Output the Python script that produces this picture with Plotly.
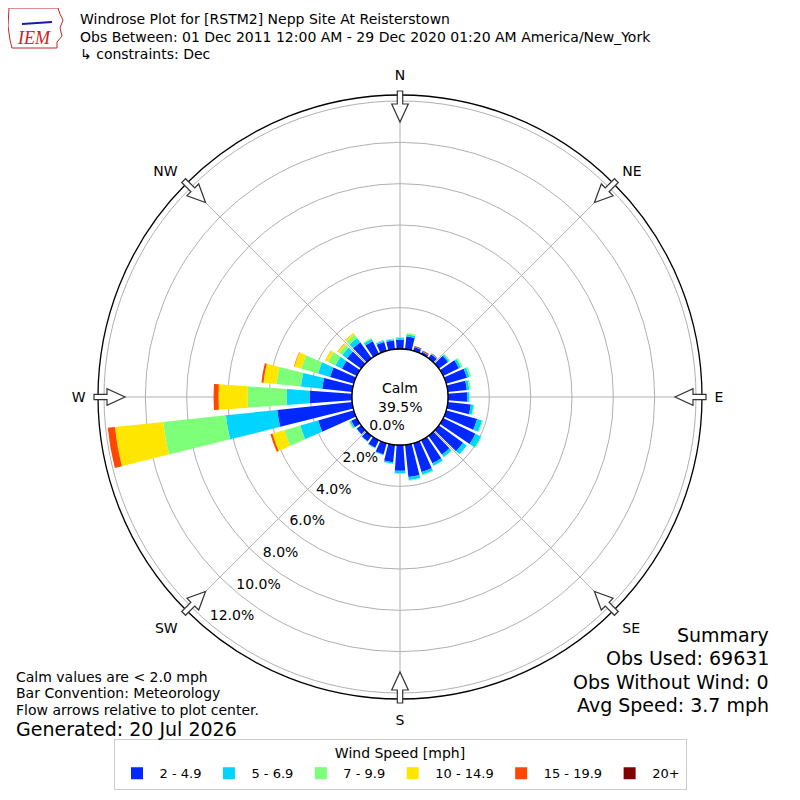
import math
import plotly.graph_objects as go

# ---------------- data ----------------
directions = list(range(0, 360, 10))
speed_labels = ["2 - 4.9", "5 - 6.9", "7 - 9.9", "10 - 14.9", "15 - 19.9", "20+"]
speed_colors = ["#0028ff", "#00d4ff", "#7dff7a", "#ffe600", "#ff4700", "#800000"]

#        0     10    20    30    40    50    60    70    80    90    100   110
s_2_5 = [0.45, 0.62, 0.18, 0.12, 0.24, 0.55, 0.85, 1.05, 0.93, 0.93, 1.12, 1.56,
         #120  130   140   150   160   170   180   190   200   210   220   230
         1.74, 1.45, 1.12, 1.25, 1.45, 1.57, 1.25, 0.85, 0.57, 0.41, 0.33, 0.27,
         #240  250   260   270   280   290   300   310   320   330   340   350
         0.30, 1.80, 3.65, 2.04, 1.46, 1.20, 0.80, 0.85, 0.95, 0.68, 0.45, 0.43]
s_5_7 = [0.08, 0.10, 0.01, 0.01, 0.02, 0.08, 0.12, 0.13, 0.12, 0.10, 0.13, 0.25,
         0.30, 0.22, 0.15, 0.13, 0.14, 0.15, 0.12, 0.07, 0.04, 0.03, 0.02, 0.02,
         0.08, 0.90, 2.50, 1.12, 1.04, 0.60, 0.35, 0.28, 0.25, 0.12, 0.07, 0.06]
s_7_10 = [0.04, 0.06, 0.00, 0.00, 0.01, 0.04, 0.08, 0.08, 0.07, 0.04, 0.05, 0.05,
          0.05, 0.03, 0.03, 0.02, 0.03, 0.03, 0.03, 0.01, 0.01, 0.01, 0.01, 0.01,
          0.05, 0.80, 3.05, 1.89, 1.19, 0.85, 0.40, 0.18, 0.20, 0.05, 0.03, 0.03]
s_10_15 = [0.00, 0.02, 0.00, 0.00, 0.00, 0.00, 0.00, 0.00, 0.00, 0.00, 0.00, 0.00,
           0.00, 0.00, 0.00, 0.00, 0.00, 0.00, 0.00, 0.00, 0.00, 0.00, 0.00, 0.00,
           0.02, 0.60, 2.35, 1.41, 0.63, 0.35, 0.15, 0.10, 0.10, 0.00, 0.00, 0.00]
s_15_20 = [0.00, 0.00, 0.03, 0.03, 0.01, 0.01, 0.00, 0.00, 0.00, 0.00, 0.00, 0.00,
           0.00, 0.00, 0.00, 0.00, 0.00, 0.00, 0.00, 0.00, 0.00, 0.00, 0.00, 0.00,
           0.00, 0.10, 0.35, 0.24, 0.10, 0.02, 0.01, 0.01, 0.01, 0.00, 0.00, 0.00]
s_20p = [0.00, 0.00, 0.02, 0.02, 0.01, 0.00, 0.00, 0.00, 0.00, 0.00, 0.00, 0.00,
         0.00, 0.00, 0.00, 0.00, 0.00, 0.00, 0.00, 0.00, 0.00, 0.00, 0.00, 0.00,
         0.00, 0.00, 0.00, 0.00, 0.00, 0.00, 0.00, 0.00, 0.00, 0.00, 0.00, 0.00]
series = [s_2_5, s_5_7, s_7_10, s_10_15, s_15_20, s_20p]

radial_ticks = [0, 2, 4, 6, 8, 10, 12]
radial_ticktext = ["%.1f%%" % v for v in radial_ticks]
radial_label_dir = 220
compass_vals = [0, 45, 90, 135, 180, 225, 270, 315]
compass_text = ["N", "NE", "E", "SE", "S", "SW", "W", "NW"]

calm_pct = "39.5%"
title_lines = ["Windrose Plot for [RSTM2] Nepp Site At Reisterstown",
               "Obs Between: 01 Dec 2011 12:00 AM - 29 Dec 2020 01:20 AM America/New_York",
               "\u21b3 constraints: Dec"]
left_notes = ["Calm values are < 2.0 mph", "Bar Convention: Meteorology",
              "Flow arrows relative to plot center."]
generated = "Generated: 20 Jul 2026"
summary = ["Summary", "Obs Used: 69631", "Obs Without Wind: 0", "Avg Speed: 3.7 mph"]

# ---------------- layout geometry (page pixels) ----------------
W = H = 800
OFF = 8          # page body margin that offsets the figure
CX, CY = 400, 397
R_OUT = 302
R_HOLE = 48
R_MAX = 12.29
FONT = "DejaVu Sans"


def px(x):
    return (x - OFF) / W


def py(y):
    return 1 - (y - OFF) / H


fig = go.Figure()
for vals, lab, col in zip(series, speed_labels, speed_colors):
    fig.add_trace(go.Barpolar(
        r=vals, theta=directions, width=8, name=lab,
        marker=dict(color=col, line=dict(width=0)),
    ))

# calm circle outline
circ_theta = list(range(0, 361, 2))
fig.add_trace(go.Scatterpolar(r=[0] * len(circ_theta), theta=circ_theta, mode="lines",
                              line=dict(color="black", width=1.3), showlegend=False,
                              hoverinfo="skip"))
# radial tick labels
fig.add_trace(go.Scatterpolar(r=radial_ticks, theta=[radial_label_dir] * len(radial_ticks),
                              mode="text", text=radial_ticktext, textposition="top right",
                              textfont=dict(size=14, color="black", family=FONT),
                              showlegend=False, hoverinfo="skip", cliponaxis=False))

fig.update_layout(
    width=W, height=H, margin=dict(l=0, r=0, t=0, b=0),
    paper_bgcolor="white", plot_bgcolor="white",
    font=dict(family=FONT, size=14, color="black"),
    polar=dict(
        domain=dict(x=[px(CX - R_OUT), px(CX + R_OUT)], y=[py(CY + R_OUT), py(CY - R_OUT)]),
        hole=R_HOLE / R_OUT,
        bgcolor="white",
        barmode="stack",
        radialaxis=dict(range=[0, R_MAX], tickvals=radial_ticks, showticklabels=False,
                        showline=False, ticks="", gridcolor="#b0b0b0", gridwidth=1,
                        layer="above traces"),
        angularaxis=dict(rotation=90, direction="clockwise", tickvals=compass_vals,
                         ticktext=compass_text, showline=True, linecolor="black",
                         linewidth=1.3, gridcolor="#b0b0b0", gridwidth=1,
                         ticks="outside", ticklen=9, tickcolor="rgba(0,0,0,0)",
                         tickfont=dict(size=14, color="black"), layer="above traces"),
    ),
    legend=dict(orientation="h", x=px(400), xanchor="center", y=py(790), yanchor="bottom",
                title=dict(text="Wind Speed [mph]", side="top center", font=dict(size=14)),
                bordercolor="#cccccc", borderwidth=1, font=dict(size=13),
                itemwidth=35, itemclick=False),
)

# hollow flow arrows at compass points
shapes = []
for ang in compass_vals:
    t = math.radians(ang)
    pts_local = [(306, -2.7), (293, -2.7), (293, -8.3), (275, 0), (293, 8.3), (293, 2.7), (306, 2.7)]
    pts = []
    for u, v in pts_local:
        x = CX + u * math.sin(t) + v * math.cos(t)
        y = CY - u * math.cos(t) + v * math.sin(t)
        pts.append((px(x), py(y)))
    path = "M " + " L ".join("%.5f,%.5f" % p for p in pts) + " Z"
    shapes.append(dict(type="path", xref="paper", yref="paper", path=path,
                       fillcolor="white", line=dict(color="#333333", width=1.2)))

# simple IEM logo outline
logo = [(9, 8), (58, 8), (60, 14), (63, 20), (60, 28), (62, 36), (57, 42), (57, 48), (12, 48), (10, 40), (8, 26), (9, 8)]
shapes.append(dict(type="path", xref="paper", yref="paper",
                   path="M " + " L ".join("%.5f,%.5f" % (px(x), py(y)) for x, y in logo) + " Z",
                   line=dict(color="#cc2222", width=1), fillcolor="rgba(0,0,0,0)"))
shapes.append(dict(type="line", xref="paper", yref="paper", x0=px(22), y0=py(24), x1=px(52), y1=py(22),
                   line=dict(color="#1a1aa8", width=2)))
fig.update_layout(shapes=shapes)

ann = []
ann.append(dict(text="<i>IEM</i>", x=px(34), y=py(38), xref="paper", yref="paper", showarrow=False,
                font=dict(family="Liberation Serif", size=18, color="#cc2222"), xanchor="center",
                yanchor="middle"))
for txt, yy in zip(title_lines, [19, 37, 54]):
    ann.append(dict(text=txt, x=px(78), y=py(yy), xref="paper", yref="paper", showarrow=False,
                    xanchor="left", yanchor="middle", font=dict(size=14)))
ann.append(dict(text="Calm", x=px(CX), y=py(388), xref="paper", yref="paper", showarrow=False,
                xanchor="center", yanchor="middle", font=dict(size=14)))
ann.append(dict(text=calm_pct, x=px(CX), y=py(407), xref="paper", yref="paper", showarrow=False,
                xanchor="center", yanchor="middle", font=dict(size=14)))
for txt, yy in zip(left_notes, [677, 693, 710]):
    ann.append(dict(text=txt, x=px(14), y=py(yy), xref="paper", yref="paper", showarrow=False,
                    xanchor="left", yanchor="middle", font=dict(size=14)))
ann.append(dict(text=generated, x=px(14), y=py(729), xref="paper", yref="paper", showarrow=False,
                xanchor="left", yanchor="middle", font=dict(size=19)))
for txt, yy in zip(summary, [635, 658, 682, 705]):
    ann.append(dict(text=txt, x=px(771), y=py(yy), xref="paper", yref="paper", showarrow=False,
                    xanchor="right", yanchor="middle", font=dict(size=19)))
fig.update_layout(annotations=ann)

fig.write_html("out.html")
